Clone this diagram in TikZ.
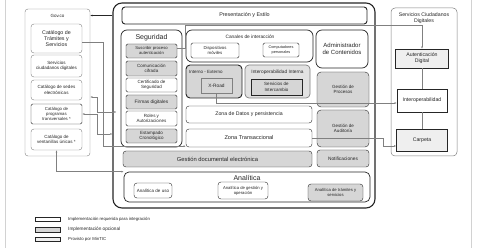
\documentclass[tikz,border=0pt]{standalone}
\usepackage{fontspec}
\setmainfont{Liberation Sans}
\usetikzlibrary{arrows.meta,positioning}
\definecolor{ink}{HTML}{262626}
\definecolor{wire}{HTML}{808080}
\definecolor{opcional}{HTML}{D6D6D6}
\definecolor{interna}{HTML}{E2E2E2}
\definecolor{mintic}{HTML}{EFEFEF}
\tikzset{cont/.style={draw=ink,rounded corners=6pt,line width=0.7pt},box/.style={draw=ink,rounded corners=1.5pt,line width=0.4pt,fill=white,align=center,inner sep=0pt,text=ink,font=\fontsize{4.5}{5.3}\selectfont},gbox/.style={box,fill=opcional},lbox/.style={box,fill=mintic,rounded corners=0pt},ebox/.style={box,draw=wire,rounded corners=3pt},ttl/.style={text=ink,align=center,inner sep=0pt,font=\fontsize{5}{6}\selectfont},lnk/.style={draw=wire,line width=0.4pt,-{Latex[length=2.2pt,width=1.8pt]}},both/.style={lnk,{Latex[length=2.2pt,width=1.8pt]}-{Latex[length=2.2pt,width=1.8pt]}}}
\begin{document}
\begin{tikzpicture}[x=1pt,y=-1pt]
\useasboundingbox[fill=white] (0,0) rectangle (477,248);
\draw[gray!35] (5,0) -- (5,248); \draw[gray!35] (471,0) -- (471,248);
% Gov.co
\node[cont,draw=wire,line width=0.4pt,rounded corners=3pt,minimum width=65pt,minimum height=147pt] (govco) at (57.5,82.5) {};
\node[ttl,font=\fontsize{4.5}{5.3}\selectfont] (govttl) at (57.5,16) {Gov.co};
\node[ebox,minimum width=51pt,minimum height=29pt,font=\fontsize{5.3}{6.4}\selectfont] (tramites) at (56.5,38.5) {Catálogo de\\Trámites y\\Servicios};
\node[ebox,minimum width=51pt,minimum height=22pt] (ciudadanos) at (56.5,66) {Servicios\\ciudadanos digitales};
\node[ebox,minimum width=51pt,minimum height=20pt] (sedes) at (56.5,90) {Catálogo de sedes\\electrónicas};
\node[ebox,draw=ink,rounded corners=1.5pt,minimum width=51pt,minimum height=20pt,font=\fontsize{4.3}{5}\selectfont] (programas) at (56.5,114) {Catálogo de\\programas\\transversales *};
\node[ebox,minimum width=51pt,minimum height=21pt] (ventanillas) at (56.5,139.5) {Catálogo de\\ventanillas únicas *};
% plataforma
\node[cont,line width=1.1pt,rounded corners=9pt,minimum width=262pt,minimum height=205pt] (main) at (244,105.5) {};
\node[box,line width=0.9pt,rounded corners=3pt,minimum width=245pt,minimum height=17pt,font=\fontsize{5.4}{6.4}\selectfont] (presentacion) at (244.5,15.5) {Presentación y Estilo};
\node[cont,minimum width=61pt,minimum height=117pt] (seguridad) at (151.5,88.5) {};
\node[ttl,font=\fontsize{7}{8}\selectfont] (segttl) at (151.5,37.5) {Seguridad};
\node[gbox,minimum width=51pt,minimum height=14pt,font=\fontsize{4.2}{5}\selectfont] (suscribir) at (151.5,51) {Suscribir proceso\\autenticación};
\node[gbox,minimum width=51pt,minimum height=15pt] (cifrada) at (151.5,68.5) {Comunicación\\cifrada};
\node[box,minimum width=51pt,minimum height=14pt] (certificado) at (151.5,85) {Certificado de\\Seguridad};
\node[gbox,minimum width=51pt,minimum height=14pt,font=\fontsize{4.8}{5.6}\selectfont] (firmas) at (151.5,102) {Firmas digitales};
\node[box,minimum width=51pt,minimum height=15pt] (roles) at (151.5,118.5) {Roles y\\Autorizaciones};
\node[gbox,minimum width=51pt,minimum height=14pt] (estampado) at (151.5,136) {Estampado\\Cronológico};
\node[cont,minimum width=127pt,minimum height=32pt] (canales) at (249.5,46) {};
\node[ttl,font=\fontsize{4.8}{5.6}\selectfont] (canttl) at (250,37) {Canales de interacción};
\node[box,minimum width=48pt,minimum height=15pt,font=\fontsize{4.3}{5.1}\selectfont] (moviles) at (215,50.5) {Dispositivos\\móviles};
\node[box,minimum width=36pt,minimum height=14pt,font=\fontsize{3.8}{4.6}\selectfont] (computadores) at (281,50) {Computadores\\personales};
\node[cont,minimum width=52pt,minimum height=38pt,font=\fontsize{6}{7.4}\selectfont,align=center,text=ink] (admin) at (342,49) {Administrador\\de Contenidos};
\node[cont,fill=opcional,line width=0.9pt,rounded corners=4pt,minimum width=56pt,minimum height=33pt] (interno) at (214,81.5) {};
\node[ttl,anchor=west,font=\fontsize{4.5}{5.3}\selectfont] (intttl) at (189,72) {Interno - Externo};
\node[gbox,draw=wire,rounded corners=0pt,minimum width=31pt,minimum height=15pt,font=\fontsize{4.8}{5.6}\selectfont] (xroad) at (216.5,85.5) {X-Road};
\node[cont,fill=interna,draw=wire,rounded corners=4pt,minimum width=65pt,minimum height=33pt] (interna) at (277.5,81.5) {};
\node[ttl,font=\fontsize{4.8}{5.6}\selectfont] (iotttl) at (277.5,72) {Interoperabilidad Interna};
\node[gbox,rounded corners=0pt,minimum width=51pt,minimum height=16pt] (intercambio) at (276.5,87) {Servicios de\\Intercambio};
\node[gbox,rounded corners=4pt,minimum width=52pt,minimum height=35pt] (procesos) at (343,89.5) {Gestión de\\Procesos};
\node[box,rounded corners=3pt,minimum width=126pt,minimum height=17pt,font=\fontsize{5.2}{6}\selectfont] (datos) at (249,114.5) {Zona de Datos y persistencia};
\node[gbox,rounded corners=4pt,minimum width=52pt,minimum height=37pt] (auditoria) at (343,128.5) {Gestión de\\Auditoría};
\node[box,rounded corners=3pt,minimum width=126pt,minimum height=18pt,font=\fontsize{5.6}{6.4}\selectfont] (transaccional) at (249,138) {Zona Transaccional};
\node[gbox,rounded corners=3pt,minimum width=189pt,minimum height=16pt,font=\fontsize{5.8}{6.6}\selectfont] (documental) at (217.5,159) {Gestión documental electrónica};
\node[gbox,rounded corners=3pt,minimum width=52pt,minimum height=17pt,font=\fontsize{4.8}{5.6}\selectfont] (notificaciones) at (343,158.5) {Notificaciones};
\node[cont,rounded corners=5pt,minimum width=246pt,minimum height=30pt] (analitica) at (247,187) {};
\node[ttl,font=\fontsize{7}{8}\selectfont] (anattl) at (247,177.5) {Analítica};
\node[box,rounded corners=3pt,minimum width=38pt,minimum height=15pt] (uso) at (153,190.5) {Analítica de uso};
\node[box,rounded corners=3pt,minimum width=50pt,minimum height=17pt,font=\fontsize{4.2}{5.2}\selectfont] (gestion) at (243,190.5) {Analítica de gestión y\\operación};
\node[gbox,rounded corners=3pt,minimum width=55pt,minimum height=17pt,font=\fontsize{4.2}{5.2}\selectfont] (tramserv) at (335.5,192.5) {Analítica de trámites y\\servicios};
% servicios ciudadanos digitales
\node[cont,draw=wire,line width=0.5pt,rounded corners=4pt,minimum width=66pt,minimum height=148pt] (scd) at (424,82) {};
\node[ttl,font=\fontsize{5.2}{6.2}\selectfont] (scdttl) at (424,18.5) {Servicios Ciudadanos\\Digitales};
\node[lbox,minimum width=53pt,minimum height=19pt,font=\fontsize{5.2}{6.2}\selectfont] (autenticacion) at (422,58.5) {Autenticación\\Digital};
\node[box,rounded corners=0pt,minimum width=50pt,minimum height=23pt,font=\fontsize{5.2}{6.2}\selectfont] (interop) at (422,100.5) {Interoperabilidad};
\node[lbox,minimum width=51pt,minimum height=22pt,font=\fontsize{5.2}{6.2}\selectfont] (carpeta) at (422,140) {Carpeta};
% conexiones
\coordinate (sube) at (185,25);
\draw[lnk,draw=ink] (main.west |- presentacion) -- (govco.east |- presentacion);
\draw[lnk] ([yshift=-3.5pt]tramites.east) -- ++(21,0) |- ([yshift=1pt]transaccional.south west);
\draw[both] ([yshift=-14.5pt]govco.east) -- ++(7,0) |- ([xshift=4pt,yshift=-6.5pt]main.west);
\draw[both] (programas.east) -- ++(15,0) |- ([yshift=-28.5pt]main.west);
\draw[both] (ventanillas.south) |- (analitica.north west);
\draw[lnk] ([yshift=3pt]suscribir.east) -| (sube) -| (autenticacion.north);
\draw[lnk] (xroad.south) |- ([yshift=-2.5pt]interop.west);
\draw[lnk] (transaccional.east) -- ++(71,0) |- ([yshift=-6pt]carpeta.west);
\draw[wire,line width=0.4pt] (autenticacion) -- (interop) -- (carpeta);
% leyenda
\node[box,rounded corners=0pt,draw=ink,minimum width=25pt,minimum height=4pt] (legreq) at (47.5,219) {};
\node[gbox,rounded corners=0pt,minimum width=25pt,minimum height=5pt] (legopc) at (47.5,229.5) {};
\node[lbox,minimum width=25pt,minimum height=4pt] (legmin) at (47.5,239.5) {};
\node[ttl,anchor=west,font=\fontsize{4.3}{5}\selectfont] (txtreq) at (68,219) {Implementación requerida para integración};
\node[ttl,anchor=west,font=\fontsize{4.7}{5.5}\selectfont] (txtopc) at (68,229.5) {Implementación opcional};
\node[ttl,anchor=west,font=\fontsize{4.3}{5}\selectfont] (txtmin) at (68,239.5) {Provisto por MinTIC};
\end{tikzpicture}
\end{document}
